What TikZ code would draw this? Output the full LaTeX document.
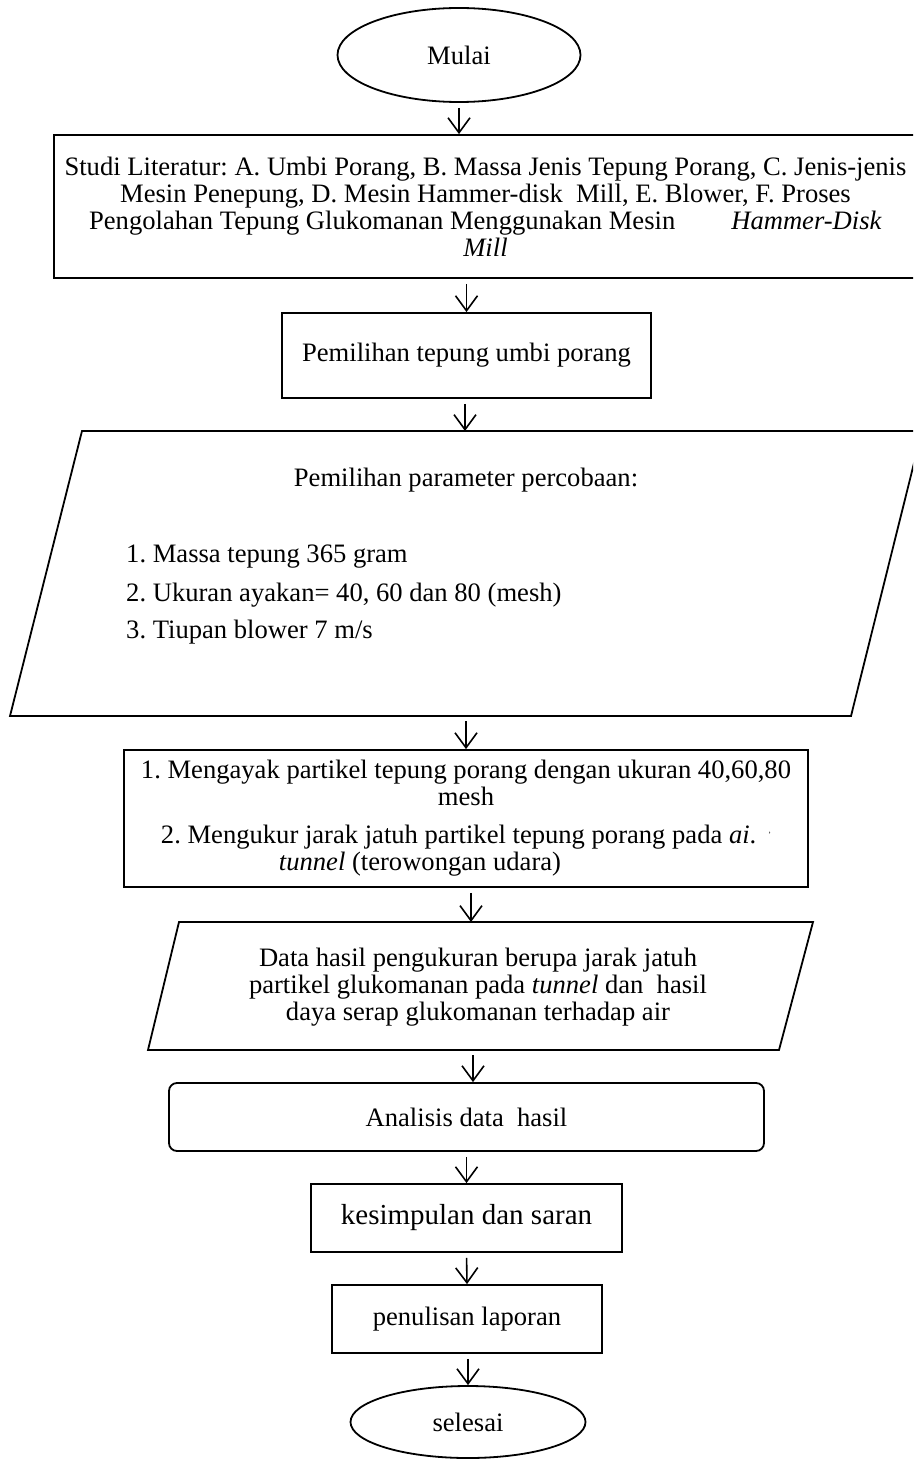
\documentclass[tikz,border=0pt]{standalone}
\usepackage{fontspec}
\setmainfont{Liberation Serif}
\usetikzlibrary{shapes.geometric,arrows.meta}
\frenchspacing

\begin{document}
\begin{tikzpicture}
  \tikzset{
    kotak/.style={
      rectangle,
      draw=black,
      line width=1.8pt,
      inner sep=0pt,
      align=center,
      font=\fontsize{26.6pt}{27pt}\selectfont
    },
    oval/.style={
      ellipse,
      draw=black,
      line width=1.8pt,
      inner sep=0pt,
      font=\fontsize{26.6pt}{27pt}\selectfont
    },
    garis/.style={
      draw=black,
      line width=1.8pt,
      line join=miter
    },
    teks/.style={
      inner sep=0pt,
      font=\fontsize{26.6pt}{27pt}\selectfont
    },
    panah/.style={
      -{Straight Barb[length=15pt,width=22pt,line width=1.6pt]},
      line width=1.6pt,
      shorten <=5pt
    }
  }

  \clip (0pt, 0pt) rectangle (913pt, -1463pt);

  \node[oval, minimum width=243pt, minimum height=94pt] (mulai) at (459pt, -55pt) {Mulai};
  \node[kotak, minimum width=863pt, minimum height=143pt] (lit) at (485.5pt, -206.5pt)
    {Studi Literatur: A. Umbi Porang, B. Massa Jenis Tepung Porang, C. Jenis-jenis\\
     Mesin Penepung, D. Mesin Hammer-disk\ \ Mill, E. Blower, F. Proses\\
     Pengolahan Tepung Glukomanan Menggunakan Mesin\hspace{56pt}\textit{Hammer-Disk}\\
     \textit{Mill}};
  \node[kotak, minimum width=369pt, minimum height=85pt] (pilih) at (466.5pt, -355.5pt) {Pemilihan tepung umbi porang};

  % jajaran genjang parameter
  \draw[garis] (10pt, -716pt) -- (82pt, -431pt) -- (922pt, -431pt) -- (851pt, -716pt) -- cycle;
  \coordinate (paramatas) at (465pt, -431pt);
  \coordinate (parambawah) at (466pt, -716pt);
  \node[teks] (judul) at (466pt, -480pt) {Pemilihan parameter percobaan:};
  \node[teks, align=left, anchor=west] (daftar) at (126pt, -595pt)
    {1. Massa tepung 365 gram\\[12pt]
     2. Ukuran ayakan= 40, 60 dan 80 (mesh)\\[10pt]
     3. Tiupan blower 7 m/s};

  \node[kotak, minimum width=684pt, minimum height=137pt] (ayak) at (466pt, -818.5pt)
    {1. Mengayak partikel tepung porang dengan ukuran 40,60,80\\
     mesh\\[11pt]
     2. Mengukur jarak jatuh partikel tepung porang pada \textit{ai}.\hspace{12pt}\raisebox{6pt}{\fontsize{8pt}{8pt}\selectfont '}\\
     \hspace*{-92pt}\textit{tunnel} (terowongan udara)};

  % jajaran genjang data
  \draw[garis] (148pt, -1050pt) -- (179pt, -922pt) -- (813pt, -922pt) -- (779pt, -1050pt) -- cycle;
  \coordinate (dataatas) at (471pt, -922pt);
  \coordinate (databawah) at (473pt, -1050pt);
  \node[teks, align=center] (data) at (478pt, -987pt)
    {Data hasil pengukuran berupa jarak jatuh\\
     partikel glukomanan pada \textit{tunnel} dan\ \ hasil\\
     daya serap glukomanan terhadap air};

  \node[kotak, rounded corners=8pt, minimum width=595pt, minimum height=68pt] (analisis) at (466.5pt, -1117pt) {Analisis data\ \ hasil};
  \node[kotak, minimum width=311pt, minimum height=68pt, font=\fontsize{29pt}{30pt}\selectfont] (simpul) at (466.5pt, -1218pt) {kesimpulan dan saran};
  \node[kotak, minimum width=270pt, minimum height=68pt] (tulis) at (467pt, -1319pt) {penulisan laporan};
  \node[oval, minimum width=235pt, minimum height=72pt] (selesai) at (468pt, -1422pt) {selesai};

  \draw[panah] (mulai.south) -- (mulai.south |- lit.north);
  \draw[panah] (lit.south -| pilih.north) -- (pilih.north);
  \draw[panah] (pilih.south -| paramatas) -- (paramatas);
  \draw[panah] (parambawah) -- (parambawah |- ayak.north);
  \draw[panah] (ayak.south -| dataatas) -- (dataatas);
  \draw[panah] (databawah) -- (databawah |- analisis.north);
  \draw[panah] (analisis.south) -- (simpul.north);
  \draw[panah] (simpul.south) -- (tulis.north);
  \draw[panah] (tulis.south -| selesai.north) -- (selesai.north);
\end{tikzpicture}
\end{document}
